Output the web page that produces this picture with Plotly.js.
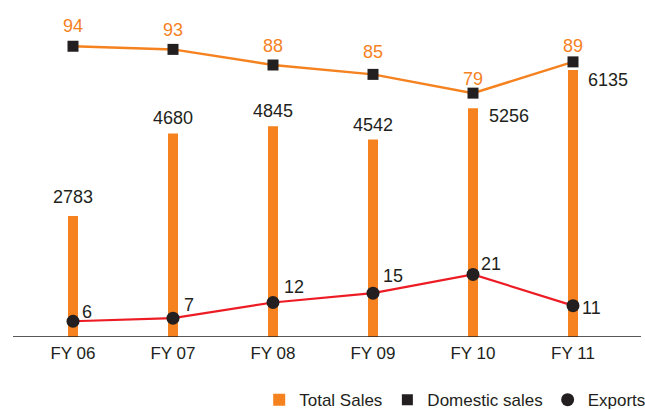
<!DOCTYPE html>
<html>
<head>
<meta charset="utf-8">
<script src="https://cdn.plot.ly/plotly-3.0.1.min.js"></script>
<style>html,body{margin:0;padding:0;background:#fff;}#chart{width:645px;height:410px;}</style>
</head>
<body>
<div id="chart"></div>
<script>
const categories = ["FY 06", "FY 07", "FY 08", "FY 09", "FY 10", "FY 11"];
const totalSales = [2783, 4680, 4845, 4542, 5256, 6135];
const domesticSales = [94, 93, 88, 85, 79, 89];
const exportsShare = [6, 7, 12, 15, 21, 11];

const ORANGE = "#F5821F";
const DARK = "#231F20";
const RED = "#ED1C24";
const FONT = "'Liberation Sans', Arial, sans-serif";

// label offsets (pixels) — presentation only
const barShift = [[0,19],[0,15.5],[0,15],[0,14],[36,-8],[34.5,-9.5]];
const domShift = [[0,20],[0,19],[0,19.5],[0,22.5],[0,14],[0,16]];
const expShift = [[13.5,9.6],[15.5,12.7],[20.5,16],[19.5,17],[18,10],[18,-2]];

const traces = [
  {type: "bar", name: "Total Sales", x: categories, y: totalSales, width: 0.1,
   marker: {color: ORANGE}, yaxis: "y", hoverinfo: "skip"},
  {type: "scatter", mode: "lines", x: categories, y: domesticSales, yaxis: "y2",
   line: {color: ORANGE, width: 2.5}, showlegend: false, hoverinfo: "skip"},
  {type: "scatter", mode: "markers", name: "Domestic sales", x: categories, y: domesticSales, yaxis: "y2",
   marker: {symbol: "square", size: 11, color: DARK}, hoverinfo: "skip"},
  {type: "scatter", mode: "lines", x: categories, y: exportsShare, yaxis: "y2",
   line: {color: RED, width: 2.2}, showlegend: false, hoverinfo: "skip"},
  {type: "scatter", mode: "markers", name: "Exports", x: categories, y: exportsShare, yaxis: "y2",
   marker: {symbol: "circle", size: 13, color: DARK}, hoverinfo: "skip"}
];

const annotations = [];
categories.forEach((c, i) => {
  annotations.push({x: c, y: totalSales[i], xref: "x", yref: "y", text: String(totalSales[i]),
    showarrow: false, xanchor: "center", yanchor: "middle", xshift: barShift[i][0], yshift: barShift[i][1],
    font: {family: FONT, size: 18, color: DARK}});
  annotations.push({x: c, y: domesticSales[i], xref: "x", yref: "y2", text: String(domesticSales[i]),
    showarrow: false, xanchor: "center", yanchor: "middle", xshift: domShift[i][0], yshift: domShift[i][1],
    font: {family: FONT, size: 18, color: ORANGE}});
  annotations.push({x: c, y: exportsShare[i], xref: "x", yref: "y2", text: String(exportsShare[i]),
    showarrow: false, xanchor: "center", yanchor: "middle", xshift: expShift[i][0], yshift: expShift[i][1],
    font: {family: FONT, size: 18, color: DARK}});
});

const layout = {
  width: 645, height: 410,
  margin: {l: 23, r: 22, t: 20, b: 73, pad: 0, autoexpand: false},
  paper_bgcolor: "#fff", plot_bgcolor: "#fff",
  font: {family: FONT, size: 17, color: DARK},
  showlegend: true,
  legend: {orientation: "h", x: 1.047, xanchor: "right", y: -0.199, yanchor: "middle",
    font: {family: FONT, size: 17, color: DARK}, itemwidth: 30, traceorder: "normal", bgcolor: "rgba(0,0,0,0)"},
  xaxis: {type: "category", range: [-0.5, 5.5], autorange: false, showgrid: false, zeroline: false, showline: false, ticks: "",
    tickfont: {family: FONT, size: 17, color: DARK}, ticklabelstandoff: 4},
  yaxis: {range: [0, 7287], visible: false, showgrid: false, zeroline: false, fixedrange: true},
  yaxis2: {range: [0.96, 102.4], overlaying: "y", visible: false, showgrid: false, zeroline: false},
  shapes: [{type: "line", xref: "paper", yref: "y", x0: -10/600, x1: 618/600, y0: 0, y1: 0,
    line: {color: DARK, width: 1.5}, layer: "above"}],
  annotations: annotations
};

Plotly.newPlot("chart", traces, layout, {displayModeBar: false, staticPlot: true});
</script>
</body>
</html>
